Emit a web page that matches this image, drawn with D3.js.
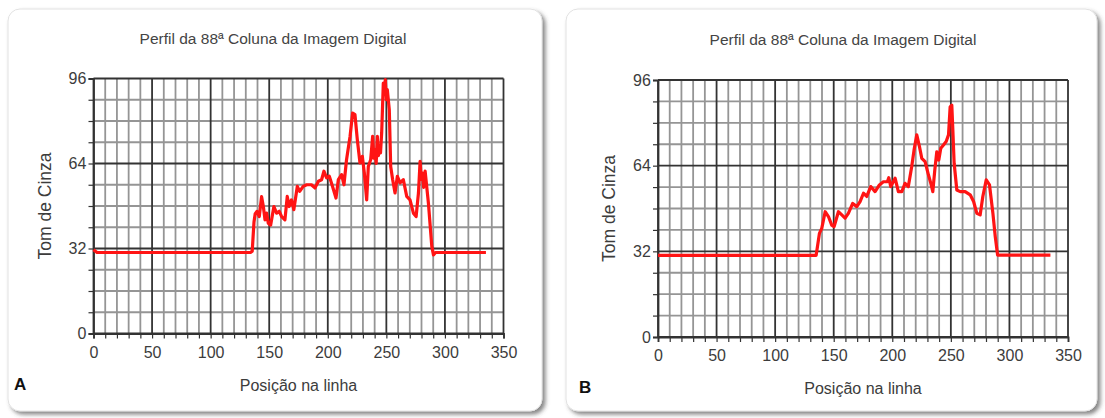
<!DOCTYPE html>
<html>
<head>
<meta charset="utf-8">
<script src="https://cdn.jsdelivr.net/npm/d3@7"></script>
<style>
  body { margin: 0; background: #fff; }
  svg { display: block; font-family: "Liberation Sans", Arial, sans-serif; }
</style>
</head>
<body>
<svg id="chart" width="1105" height="418"></svg>
<script>
// tick values
const xTicks = [0, 50, 100, 150, 200, 250, 300, 350];
const yTicks = [0, 32, 64, 96];

// panel A profile (position, grey tone)
const posA = [0, 3, 134, 135.5, 137, 138, 139.5, 141.5, 143.5, 145, 146.4, 147.8, 149.2, 151.2, 154, 156.3, 158.6, 160.6, 163.4, 165.4, 167, 169, 171, 174, 176, 179, 182, 186, 189, 192, 194.7, 196.7, 199, 201.3, 204, 207, 209, 211.8, 213.8, 216, 219, 221.2, 223.2, 225.2, 227.5, 229.5, 231.2, 233.2, 234.6, 236.6, 237.5, 238.3, 239.3, 240.3, 241.3, 242.3, 243.2, 244, 245, 246, 247.4, 248.3, 249.1, 250, 250.8, 252.5, 253.7, 255.4, 257.4, 259.4, 261.7, 264.5, 267.4, 270.2, 273.1, 275.4, 277.4, 278.8, 279.8, 280.8, 281.8, 283.1, 285.9, 288.8, 290.2, 292, 335];
const toneA = [31.5, 30.5, 30.5, 31, 42, 45, 46, 44, 51.5, 47.8, 42.8, 45.3, 41.5, 40.8, 47.8, 45.3, 46, 44, 42.8, 51.6, 47.8, 50.3, 46.6, 55.4, 53.5, 55.4, 56, 56, 54.8, 57.3, 57.9, 61.1, 58.6, 59.2, 55.4, 51, 57.9, 59.8, 56, 65.4, 74.2, 83, 82.4, 73, 64.2, 66.7, 60.4, 50.3, 62.9, 65.4, 70, 74.2, 66, 69.2, 64, 74.2, 67, 70.5, 68, 75.5, 94.3, 90, 95.6, 88, 91.8, 84.3, 62.9, 57.9, 52.9, 59.2, 56.7, 57.9, 51.6, 50.3, 45.3, 44, 52.9, 64.8, 58, 60.4, 55, 61.1, 49.1, 32.8, 29.6, 30.5, 30.5];

// panel B profile (position, grey tone)
const posB = [0, 135, 137.8, 139.8, 142.7, 145.5, 148.3, 150.3, 154, 156.9, 159.7, 162.5, 166.2, 169.7, 172.5, 175.4, 178.2, 181.6, 185.3, 189, 192.4, 195.8, 197, 198.7, 202.4, 205.2, 208.1, 210.9, 213.7, 216.6, 218.6, 220.9, 223.2, 225.2, 228, 230.9, 232.9, 234.6, 236.3, 238, 239.7, 241.4, 243.7, 246, 248, 249.4, 250.8, 251.7, 252.8, 255.1, 258, 262.2, 266.5, 269.4, 272.2, 275, 277.3, 280.2, 283, 285.9, 287.9, 289.9, 335];
const toneB = [30.5, 30.5, 38.7, 40.6, 46.8, 45, 41.8, 41.2, 46.8, 45.6, 44.4, 46.2, 49.9, 48.7, 50.6, 53.7, 52.5, 56.2, 54.3, 56.8, 58, 58, 59.5, 56.2, 59.3, 54.3, 54.3, 57.4, 56.2, 63.7, 69.9, 75.5, 71.1, 66.7, 65.5, 60.5, 57.4, 54.3, 62.4, 69.2, 66.1, 70.5, 71.7, 73, 75.5, 86, 86.6, 77.3, 64.9, 54.9, 54.3, 54.3, 53.1, 50.6, 46.2, 45.6, 52.5, 58.7, 56.8, 46.2, 37.5, 30.6, 30.6];

const title = "Perfil da 88ª Coluna da Imagem Digital";
const xLabel = "Posição na linha";
const yLabel = "Tom de Cinza";

const svg = d3.select("#chart");

const defs = svg.append("defs");
const shadow = defs.append("filter").attr("id", "shadow")
  .attr("x", "-5%").attr("y", "-5%").attr("width", "115%").attr("height", "115%");
shadow.append("feDropShadow")
  .attr("dx", 3).attr("dy", 3).attr("stdDeviation", 2.2)
  .attr("flood-color", "#444").attr("flood-opacity", 0.65);

function drawPanel(p) {
  // card
  svg.append("rect")
    .attr("x", p.card[0]).attr("y", p.card[1])
    .attr("width", p.card[2]).attr("height", p.card[3])
    .attr("rx", 12)
    .attr("fill", "#fff").attr("stroke", "#e2e2e2")
    .attr("filter", "url(#shadow)");

  const x = d3.scaleLinear().domain([0, 350]).range([p.left, p.right]);
  const y = d3.scaleLinear().domain([0, 96]).range([p.bottom, p.top]);

  const g = svg.append("g");

  // minor grid
  g.append("g").selectAll("line")
    .data(d3.range(10, 350, 10).filter(d => d % 50 !== 0))
    .join("line")
    .attr("x1", d => x(d)).attr("x2", d => x(d))
    .attr("y1", y(0)).attr("y2", y(96))
    .attr("stroke", "#959595").attr("stroke-width", 1.8);
  g.append("g").selectAll("line")
    .data(d3.range(8, 96, 8).filter(d => d % 32 !== 0))
    .join("line")
    .attr("x1", x(0)).attr("x2", x(350))
    .attr("y1", d => y(d)).attr("y2", d => y(d))
    .attr("stroke", "#959595").attr("stroke-width", 1.8);

  // major grid
  g.append("g").selectAll("line")
    .data(xTicks)
    .join("line")
    .attr("x1", d => x(d)).attr("x2", d => x(d))
    .attr("y1", y(0)).attr("y2", y(96))
    .attr("stroke", "#333").attr("stroke-width", 1.8);
  g.append("g").selectAll("line")
    .data(yTicks)
    .join("line")
    .attr("x1", x(0)).attr("x2", x(350))
    .attr("y1", d => y(d)).attr("y2", d => y(d))
    .attr("stroke", "#333").attr("stroke-width", 1.8);

  // axes
  const xAxis = g.append("g")
    .attr("transform", `translate(0,${p.bottom})`)
    .call(d3.axisBottom(x).tickValues(d3.range(0, 351, 10)).tickSize(5).tickFormat(d => xTicks.includes(d) ? d : ""));
  const yAxis = g.append("g")
    .attr("transform", `translate(${p.left},0)`)
    .call(d3.axisLeft(y).tickValues(d3.range(0, 97, 8)).tickSize(5).tickFormat(d => yTicks.includes(d) ? d : ""));
  [xAxis, yAxis].forEach(a => {
    a.select(".domain").attr("stroke", "#333").attr("stroke-width", 1.8);
    a.selectAll(".tick line").attr("stroke", "#333").attr("stroke-width", 1.2);
    a.selectAll("text").attr("fill", "#3c3c3c").attr("font-size", 16);
  });
  xAxis.selectAll("text").attr("dy", "1.0em");
  yAxis.selectAll("text").attr("dx", "0.05em");

  // profile line
  const pts = p.pos.map((d, i) => [d, p.tone[i]]);
  g.append("path")
    .datum(pts)
    .attr("fill", "none")
    .attr("stroke", "#ff1414")
    .attr("stroke-width", 3.2)
    .attr("stroke-linejoin", "round")
    .attr("d", d3.line().x(d => x(d[0])).y(d => y(d[1])));

  // texts
  svg.append("text")
    .attr("x", p.titleX).attr("y", p.top - 35)
    .attr("text-anchor", "middle")
    .attr("font-size", 15.5).attr("fill", "#444")
    .text(title);
  svg.append("text")
    .attr("x", (p.left + p.right) / 2).attr("y", p.bottom + 57)
    .attr("text-anchor", "middle")
    .attr("font-size", 16).attr("fill", "#3c3c3c")
    .text(xLabel);
  svg.append("text")
    .attr("transform", `translate(${p.left - 43},${(p.top + p.bottom) / 2}) rotate(-90)`)
    .attr("text-anchor", "middle")
    .attr("font-size", 17.5).attr("fill", "#3c3c3c")
    .text(yLabel);
  svg.append("text")
    .attr("x", p.letterX).attr("y", p.bottom + 56)
    .attr("font-size", 17).attr("font-weight", "bold").attr("fill", "#111")
    .text(p.letter);
}

drawPanel({
  card: [8, 9, 534, 402],
  left: 93.5, right: 503.5, top: 78.5, bottom: 333.5,
  titleX: 273, letter: "A", letterX: 14,
  pos: posA, tone: toneA
});
drawPanel({
  card: [566, 9, 531, 402],
  left: 658, right: 1068, top: 80, bottom: 337,
  titleX: 843, letter: "B", letterX: 579,
  pos: posB, tone: toneB
});
</script>
</body>
</html>
